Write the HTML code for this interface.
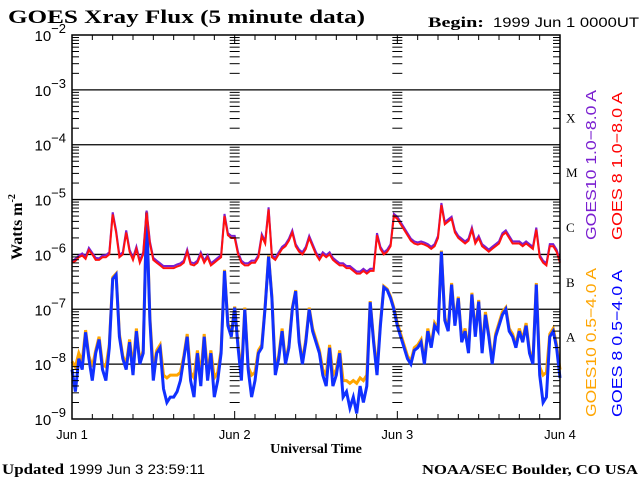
<!DOCTYPE html>
<html><head><meta charset="utf-8"><style>
html,body{margin:0;padding:0;background:#fff;width:640px;height:480px;overflow:hidden}
svg{display:block}
</style></head><body>
<svg id="chart" width="640" height="480" viewBox="0 0 640 480" xmlns="http://www.w3.org/2000/svg">
<text x="8" y="23" textLength="357" lengthAdjust="spacingAndGlyphs" font-family="Liberation Serif, serif" font-weight="bold" font-size="19">GOES Xray Flux (5 minute data)</text>
<text x="428" y="27" textLength="56" lengthAdjust="spacingAndGlyphs" font-family="Liberation Serif, serif" font-weight="bold" font-size="15">Begin:</text>
<text x="493" y="27" textLength="146" lengthAdjust="spacingAndGlyphs" font-family="Liberation Sans, sans-serif" font-size="14">1999 Jun 1 0000UT</text>
<text transform="translate(22,227) rotate(-90)" text-anchor="middle" font-family="Liberation Serif, serif" font-weight="bold" font-size="16">Watts m<tspan font-size="10" dy="-7">-2</tspan></text>
<text x="316" y="453" text-anchor="middle" font-family="Liberation Serif, serif" font-weight="bold" font-size="14">Universal Time</text>
<text x="2" y="474" textLength="62" lengthAdjust="spacingAndGlyphs" font-family="Liberation Serif, serif" font-weight="bold" font-size="15">Updated</text>
<text x="69" y="474" textLength="136" lengthAdjust="spacingAndGlyphs" font-family="Liberation Sans, sans-serif" font-size="14">1999 Jun  3 23:59:11</text>
<text x="422" y="474" textLength="216" lengthAdjust="spacingAndGlyphs" font-family="Liberation Serif, serif" font-weight="bold" font-size="14">NOAA/SEC Boulder, CO USA</text>
<g id="grid"></g>
<g id="series"></g>
<g id="axes"></g>
<g font-family="Liberation Sans, sans-serif" font-size="15">
<text transform="translate(596,240) rotate(-90)" textLength="150" lengthAdjust="spacingAndGlyphs" fill="#7a1fd0">GOES10 1.0−8.0 A</text>
<text transform="translate(622,240) rotate(-90)" textLength="148" lengthAdjust="spacingAndGlyphs" fill="#ff0000">GOES 8 1.0−8.0 A</text>
<text transform="translate(596,417) rotate(-90)" textLength="149" lengthAdjust="spacingAndGlyphs" fill="#ffa500">GOES10 0.5−4.0 A</text>
<text transform="translate(622,417) rotate(-90)" textLength="147" lengthAdjust="spacingAndGlyphs" fill="#0000ff">GOES 8 0.5−4.0 A</text>
</g>
</svg>
<script>
const dayLabels = ["Jun 1","Jun 2","Jun 3","Jun 4"];
const decadeExps = [-2,-3,-4,-5,-6,-7,-8,-9];
const classLabels = ["X","M","C","B","A"];
const classExps = [-3.5,-4.5,-5.5,-6.5,-7.5];
const stepHours = 0.5;
const goes8Long = [-6.15,-6.12,-6.05,-6.02,-6.08,-5.92,-6.0,-6.1,-6.1,-6.05,-6.05,-6.0,-5.27,-5.6,-6.05,-6.0,-5.6,-5.95,-6.1,-5.9,-6.15,-6.0,-5.24,-5.8,-6.1,-6.15,-6.2,-6.25,-6.25,-6.25,-6.25,-6.22,-6.2,-6.15,-5.95,-6.18,-6.2,-6.15,-6.0,-6.15,-6.05,-6.2,-6.15,-6.1,-6.05,-5.3,-5.65,-5.7,-5.7,-6.0,-6.15,-6.2,-6.2,-6.15,-6.15,-6.05,-5.67,-5.8,-5.18,-6.05,-6.1,-6.0,-5.9,-5.85,-5.75,-5.6,-5.85,-5.95,-6.0,-5.9,-5.7,-5.85,-6.0,-6.1,-6.0,-6.05,-6.0,-6.1,-6.15,-6.2,-6.2,-6.25,-6.25,-6.3,-6.35,-6.35,-6.3,-6.35,-6.3,-6.3,-5.65,-5.9,-6.0,-5.95,-5.85,-5.3,-5.35,-5.45,-5.55,-5.65,-5.75,-5.8,-5.82,-5.8,-5.82,-5.85,-5.9,-5.85,-5.7,-5.1,-5.45,-5.4,-5.35,-5.6,-5.7,-5.75,-5.8,-5.75,-5.55,-5.8,-5.7,-5.85,-5.9,-5.95,-5.9,-5.85,-5.8,-5.65,-5.6,-5.7,-5.8,-5.8,-5.8,-5.85,-5.8,-5.85,-5.9,-5.55,-6.05,-6.15,-6.2,-5.85,-5.85,-5.95,-6.15];
const goes10Long = [-6.14,-6.1,-6.04,-6.0,-6.06,-5.9,-5.99,-6.08,-6.09,-6.04,-6.03,-5.98,-5.25,-5.58,-6.03,-5.98,-5.58,-5.93,-6.08,-5.88,-6.13,-5.98,-5.22,-5.78,-6.08,-6.13,-6.18,-6.23,-6.23,-6.23,-6.23,-6.2,-6.18,-6.13,-5.93,-6.16,-6.18,-6.13,-5.98,-6.13,-6.03,-6.18,-6.13,-6.08,-6.03,-5.28,-5.63,-5.68,-5.68,-5.98,-6.13,-6.18,-6.18,-6.13,-6.13,-6.03,-5.65,-5.78,-5.16,-6.03,-6.08,-5.98,-5.88,-5.83,-5.73,-5.58,-5.83,-5.93,-5.98,-5.88,-5.68,-5.83,-5.98,-6.08,-5.98,-6.03,-5.98,-6.08,-6.13,-6.18,-6.18,-6.23,-6.23,-6.28,-6.33,-6.33,-6.28,-6.33,-6.28,-6.28,-5.63,-5.88,-5.98,-5.93,-5.83,-5.28,-5.33,-5.43,-5.53,-5.63,-5.73,-5.78,-5.8,-5.78,-5.8,-5.83,-5.88,-5.83,-5.68,-5.08,-5.43,-5.38,-5.33,-5.58,-5.68,-5.73,-5.78,-5.73,-5.53,-5.78,-5.68,-5.83,-5.88,-5.93,-5.88,-5.83,-5.78,-5.63,-5.58,-5.68,-5.78,-5.78,-5.78,-5.83,-5.78,-5.83,-5.88,-5.53,-6.03,-6.13,-6.18,-5.83,-5.83,-5.93,-6.13];
const goes8Short = [-8.1,-8.5,-7.9,-8.1,-7.42,-7.9,-8.3,-7.8,-7.55,-8.1,-8.3,-7.7,-6.45,-6.37,-7.5,-7.9,-8.1,-7.6,-8.2,-7.4,-8.0,-7.8,-5.24,-7.2,-8.3,-7.8,-7.7,-8.45,-8.7,-8.6,-8.6,-8.5,-8.3,-7.9,-7.5,-8.3,-8.6,-7.8,-8.4,-7.5,-8.3,-7.8,-8.6,-8.3,-7.8,-6.3,-7.3,-7.5,-6.97,-7.7,-8.3,-7.0,-8.1,-8.6,-8.3,-7.8,-7.7,-6.95,-6.04,-6.8,-8.2,-7.9,-7.4,-8.0,-7.7,-7.0,-6.67,-7.6,-8.0,-7.6,-7.0,-7.4,-7.6,-7.8,-8.2,-8.4,-7.7,-8.4,-8.2,-7.8,-8.6,-8.5,-8.8,-8.6,-8.9,-8.4,-8.7,-8.4,-6.87,-7.6,-8.2,-7.3,-6.6,-6.65,-6.8,-7.0,-7.3,-7.5,-7.7,-7.9,-8.0,-7.75,-7.7,-7.6,-8.0,-7.4,-7.7,-7.3,-7.4,-5.95,-7.2,-7.4,-6.55,-7.3,-6.8,-7.6,-7.4,-7.8,-6.73,-7.5,-6.86,-7.8,-7.1,-7.5,-8.0,-7.5,-7.3,-7.1,-7.0,-7.4,-7.5,-7.7,-7.4,-7.6,-7.3,-7.8,-8.0,-6.55,-8.2,-8.7,-8.6,-7.5,-7.4,-7.7,-8.25];
const goes10Short = [-7.95,-8.05,-7.8,-7.95,-7.38,-7.85,-8.05,-7.75,-7.5,-8.0,-8.05,-7.65,-6.42,-6.35,-7.45,-7.85,-8.0,-7.55,-8.05,-7.35,-7.95,-7.75,-5.22,-7.15,-8.1,-7.75,-7.65,-8.2,-8.25,-8.2,-8.2,-8.2,-8.15,-7.85,-7.45,-8.15,-8.25,-7.75,-8.2,-7.45,-8.15,-7.75,-8.25,-8.15,-7.75,-6.28,-7.25,-7.45,-6.95,-7.65,-8.15,-6.97,-8.05,-8.2,-8.15,-7.75,-7.65,-6.92,-6.02,-6.77,-8.1,-7.85,-7.35,-7.95,-7.65,-6.97,-6.65,-7.55,-7.95,-7.55,-6.97,-7.35,-7.55,-7.75,-8.1,-8.2,-7.65,-8.2,-8.1,-7.75,-8.3,-8.3,-8.35,-8.3,-8.35,-8.25,-8.3,-8.2,-6.85,-7.55,-8.1,-7.25,-6.58,-6.63,-6.77,-6.97,-7.25,-7.45,-7.65,-7.85,-7.95,-7.7,-7.65,-7.55,-7.95,-7.35,-7.65,-7.25,-7.35,-5.93,-7.15,-7.35,-6.52,-7.25,-6.77,-7.55,-7.35,-7.75,-6.7,-7.45,-6.83,-7.75,-7.05,-7.45,-7.95,-7.45,-7.25,-7.05,-6.97,-7.35,-7.45,-7.65,-7.35,-7.55,-7.25,-7.75,-7.95,-6.52,-8.05,-8.2,-8.15,-7.45,-7.35,-7.65,-8.1];

const NS="http://www.w3.org/2000/svg";
const L=72,R=560,T=35,B=419;
const totalHours=72;
const xs=h=>L+(h/totalHours)*(R-L);
const ys=e=>T+(-2-e)/7*(B-T);
function mk(tag,attrs,parent){const el=document.createElementNS(NS,tag);for(const k in attrs)el.setAttribute(k,attrs[k]);parent.appendChild(el);return el;}
const grid=document.getElementById('grid'),axes=document.getElementById('axes'),series=document.getElementById('series');

decadeExps.forEach(e=>{
  if(e!==-2&&e!==-9){
    const ln=mk('line',{x1:L,x2:R,y1:ys(e),y2:ys(e),stroke:'#000','stroke-width':1.3},grid);
    
    
  }
  const t=mk('text',{x:L-6,y:ys(e)+6,'text-anchor':'end','font-family':'Liberation Sans, sans-serif','font-size':15},axes);
  
  
  t.textContent='10';
  const s=document.createElementNS(NS,'tspan');s.setAttribute('font-size','13');s.setAttribute('dy','-8');s.textContent=String(e).replace('-','−');t.appendChild(s);
});
for(let e=-9;e<-2;e++){
  for(let m=2;m<=9;m++){
    const y=ys(e+Math.log10(m));
    [[L,L+7],[R-7,R],[xs(24)-5,xs(24)+5],[xs(48)-5,xs(48)+5]].forEach(p=>{
      mk('line',{x1:p[0],x2:p[1],y1:y,y2:y,stroke:'#000','stroke-width':1},axes);
    });
  }
}
for(let h=0;h<=72;h+=3){
  const x=xs(h);const big=h%24===0;
  mk('line',{x1:x,x2:x,y1:B,y2:B-(big?8:5),stroke:'#000','stroke-width':1},axes);
  mk('line',{x1:x,x2:x,y1:T,y2:T+(big?8:5),stroke:'#000','stroke-width':1},axes);
}
dayLabels.forEach((d,i)=>{
  const t=mk('text',{x:xs(i*24),y:439,'text-anchor':'middle','font-family':'Liberation Sans, sans-serif','font-size':13},axes);
  
  
  t.textContent=d;
});
classLabels.forEach((c,i)=>{
  const t=mk('text',{x:566,y:ys(classExps[i])+5,'font-family':'Liberation Serif, serif','font-size':13},axes);
  
  
  t.textContent=c;
});
const fr=mk('rect',{x:L,y:T,width:R-L,height:B-T,fill:'none',stroke:'#000','stroke-width':1.5},axes);



function drawSeries(vals,color,name,width,dy){
  let d='';
  vals.forEach((v,i)=>{const x=xs(i*stepHours),y=ys(v)+dy;d+=(i?'L':'M')+x.toFixed(1)+','+y.toFixed(1);});
  const p=mk('path',{d:d,fill:'none',stroke:color,'stroke-width':width,'stroke-linejoin':'miter'},series);
  
  
}
drawSeries(goes10Short,'#ffa500','series-goes10-short',3,0);
drawSeries(goes8Short,'#1030ff','series-goes8-short',3,0);
drawSeries(goes10Long,'#7a1fd0','series-goes10-long',2,-1);
drawSeries(goes8Long,'#ff1010','series-goes8-long',2,0);
</script>
</body></html>
